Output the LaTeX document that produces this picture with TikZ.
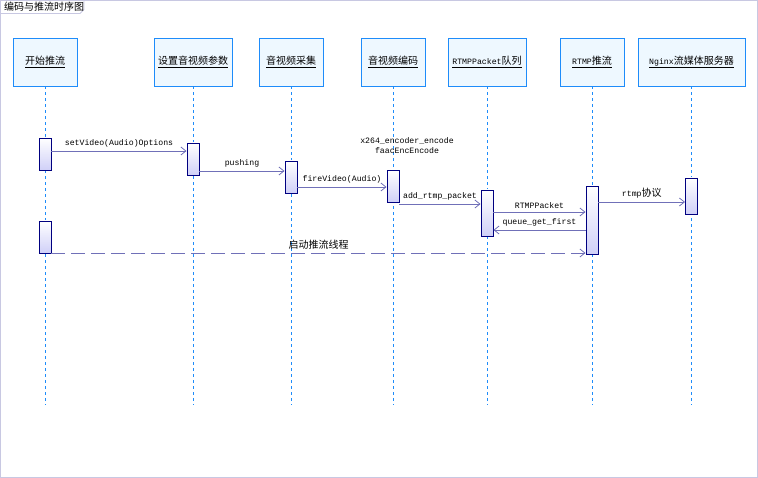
\documentclass[tikz,border=0pt]{standalone}
\usepackage{fontspec}
\setmonofont{Liberation Mono}
\newfontfamily\cjk{Noto Sans CJK SC}
\usetikzlibrary{arrows.meta}
\definecolor{headline}{RGB}{30,140,250}
\definecolor{headfill}{RGB}{238,248,255}
\definecolor{barline}{RGB}{0,0,128}
\definecolor{barfill}{RGB}{208,208,248}
\definecolor{msgline}{RGB}{112,112,184}
\definecolor{framecol}{RGB}{200,200,226}
\newcommand{\mono}[1]{{\ttfamily\fontsize{8.2}{10}\selectfont #1}}
\newcommand{\zh}[1]{{\cjk\fontsize{10}{12}\selectfont #1}}

\begin{document}
\begin{tikzpicture}[x=1pt, y=-1pt,
	head/.style={draw=headline, fill=headfill, line width=0.8pt, minimum height=48pt, inner sep=0pt, font=\cjk\fontsize{10}{12}\selectfont},
	life/.style={headline, line width=0.9pt, dash pattern=on 3pt off 3pt},
	bar/.style={draw=barline, top color=white, bottom color=barfill, line width=0.9pt, minimum width=12pt, inner sep=0pt},
	msg/.style={msgline, line width=0.8pt, -{Straight Barb[length=5pt,width=8pt]}},
	lbl/.style={font=\ttfamily\fontsize{8.2}{10}\selectfont, text=black, inner sep=1pt, above=2pt}
]
	\useasboundingbox (0,0) rectangle (758,478);
	% Cadre et titre
	\draw[framecol, line width=0.8pt] (0.5,0.5) rectangle (757.5,477.5);
	\draw[framecol, line width=0.8pt] (0.5,13.5) -- (80,13.5) -- (84,9.5) -- (84,0.5);
	\node[font=\cjk\fontsize{10}{12}\selectfont, anchor=west, inner sep=0pt] (title) at (4,7) {编码与推流时序图};

	% Objets
	\node[head, minimum width=64pt] (h1) at (45,62) {\underline{开始推流}};
	\node[head, minimum width=78pt] (h2) at (193,62) {\underline{设置音视频参数}};
	\node[head, minimum width=64pt] (h3) at (291,62) {\underline{音视频采集}};
	\node[head, minimum width=64pt] (h4) at (393,62) {\underline{音视频编码}};
	\node[head, minimum width=78pt] (h5) at (487,62) {\underline{\mono{RTMPPacket}队列}};
	\node[head, minimum width=64pt] (h6) at (592,62) {\underline{\mono{RTMP}推流}};
	\node[head, minimum width=107pt] (h7) at (691.5,62) {\underline{\mono{Nginx}流媒体服务器}};

	% Lignes de vie
	\foreach \h in {h1,h2,h3,h4,h5,h6,h7} {
		\draw[life] (\h.south) -- ++(0,319);
	}

	% Activations
	\node[bar, minimum height=32pt] (b1) at (45,154) {};
	\node[bar, minimum height=32pt] (b1s) at (45,237) {};
	\node[bar, minimum height=32pt] (b2) at (193,159) {};
	\node[bar, minimum height=32pt] (b3) at (291,177) {};
	\node[bar, minimum height=32pt] (b4) at (393,186) {};
	\node[bar, minimum height=46pt] (b5) at (487,213) {};
	\node[bar, minimum height=68pt] (b6) at (592,220) {};
	\node[bar, minimum height=36pt] (b7) at (691.5,196) {};

	% Messages
	\node[font=\ttfamily\fontsize{8.2}{10}\selectfont, align=center, inner sep=0pt] (enc) at (407,146) {x264\_encoder\_encode\\faacEncEncode};
	\draw[msg] (b1.east |- 0,151) -- node[lbl] {setVideo(Audio)Options} (b2.west |- 0,151);
	\draw[msg] (b2.east |- 0,171) -- node[lbl] {pushing} (b3.west |- 0,171);
	\draw[msg] (b3.east |- 0,187) -- node[lbl] {fireVideo(Audio)} (b4.west |- 0,187);
	\draw[msg] (b4.east |- 0,204) -- node[lbl] {add\_rtmp\_packet} (b5.west |- 0,204);
	\draw[msg] (b5.east |- 0,212) -- node[lbl] {RTMPPacket} (b6.west |- 0,212);
	\draw[msg] (b6.west |- 0,230) -- node[lbl] {queue\_get\_first} (b5.east |- 0,230);
	\draw[msg] (b6.east |- 0,202) -- node[lbl] {rtmp\zh{协议}} (b7.west |- 0,202);
	\draw[msg, dash pattern=on 14pt off 6pt] (b1s.east |- 0,253) -- node[lbl] {\zh{启动推流线程}} (b6.west |- 0,253);
\end{tikzpicture}
\end{document}
